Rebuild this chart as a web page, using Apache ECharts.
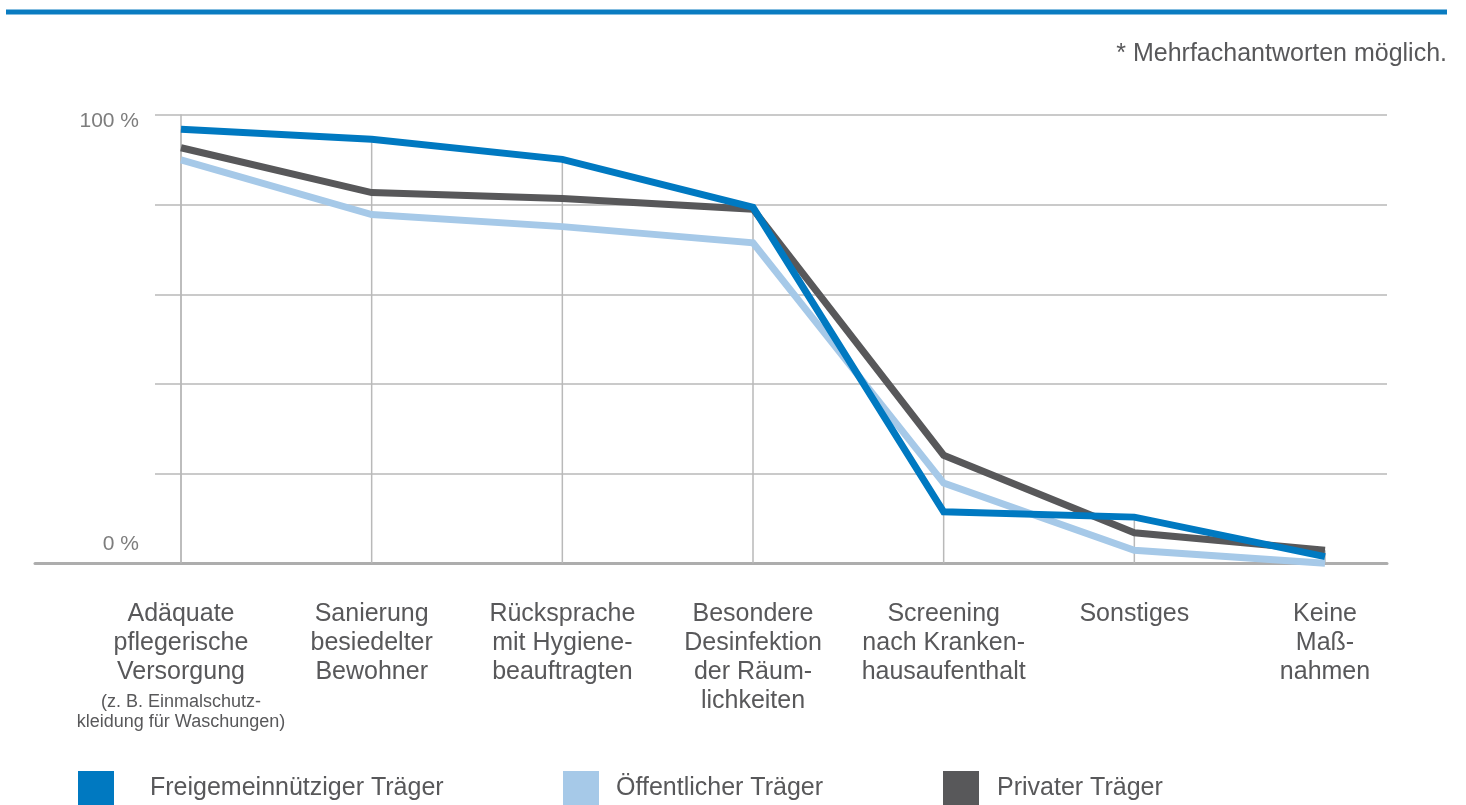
<!DOCTYPE html>
<html lang="de">
<head>
<meta charset="utf-8">
<title>Hygienemaßnahmen nach Trägerart</title>
<script src="https://cdn.jsdelivr.net/npm/echarts@6/dist/echarts.min.js"></script>
<style>
  html, body { margin: 0; padding: 0; background: #ffffff; }
  #chart { width: 1466px; height: 805px; }
</style>
</head>
<body>
<div id="chart"></div>
<script>
// Maßnahmen (x-axis categories) and the small note under the first one
const categories = [
  'Adäquate\npflegerische\nVersorgung',
  'Sanierung\nbesiedelter\nBewohner',
  'Rücksprache\nmit Hygiene-\nbeauftragten',
  'Besondere\nDesinfektion\nder Räum-\nlichkeiten',
  'Screening\nnach Kranken-\nhausaufenthalt',
  'Sonstiges',
  'Keine\nMaß-\nnahmen'
];
const categoryNotes = [
  '(z. B. Einmalschutz-\nkleidung für Waschungen)',
  '', '', '', '', '', ''
];

// Share of facilities per provider type, in percent
const seriesNames = ['Freigemeinnütziger Träger', 'Öffentlicher Träger', 'Privater Träger'];
const freigemeinnuetzig = [96.8, 94.6, 90.1, 79.4, 11.5, 10.3, 1.5];
const oeffentlich      = [90.0, 77.8, 75.1, 71.5, 17.9, 2.9, 0.0];
const privat           = [92.7, 82.7, 81.4, 79.0, 24.1, 6.8, 2.9];

// y-axis ticks
const yTicks = [0, 20, 40, 60, 80, 100];
const yLabelTexts = { 0: '0 %', 100: '100 %' };

const FONT = '"Liberation Sans", Arial, Helvetica, sans-serif';
const C_BLUE = '#0079c1';
const C_LIGHT = '#a6c9e8';
const C_GREY = '#58585a';
const C_GRID = '#b9b9b9';
const C_TEXT = '#58585a';

// highest value per category: the vertical guide drops from there to the baseline
const guideHeights = categories.map((_, i) =>
  Math.max(freigemeinnuetzig[i], oeffentlich[i], privat[i]));

const chart = echarts.init(document.getElementById('chart'), null, { renderer: 'canvas' });

const gridTop = 115;
const gridBottom = 241.7;

function buildCategoryLabel(value, index) {
  const lines = value.split('\n').map(l => '{m|' + l + '}');
  let text = lines.join('\n');
  const note = categoryNotes[index];
  if (note) {
    text += '\n{sp| }\n' + note.split('\n').map(l => '{s|' + l + '}').join('\n');
  }
  return text;
}

function legendFor(name, left, gap) {
  return {
    data: [name], left: left, top: 771, icon: 'rect', padding: 0,
    itemWidth: 36, itemHeight: 35,
    textStyle: { fontFamily: FONT, fontSize: 25, color: C_TEXT, padding: [4, 0, 0, gap] },
    selectedMode: false
  };
}

const option = {
  animation: false,
  backgroundColor: '#ffffff',
  textStyle: { fontFamily: FONT },
  title: {
    text: '* Mehrfachantworten möglich.',
    right: 19,
    top: 42,
    padding: 0,
    textStyle: { fontFamily: FONT, fontSize: 25, fontWeight: 'normal', color: C_TEXT }
  },
  graphic: [
    {
      type: 'rect',
      shape: { x: 6, y: 9.5, width: 1441, height: 5 },
      style: { fill: '#0a7cc1' },
      silent: true
    }
  ],
  legend: [
    legendFor(seriesNames[0], 78, 31),
    legendFor(seriesNames[1], 563, 12),
    legendFor(seriesNames[2], 943, 13)
  ],
  grid: [
    // 0: data lines and category labels
    { left: 181, right: 141, top: gridTop, bottom: gridBottom, containLabel: false },
    // 1: horizontal grid lines and y labels
    { left: 155, right: 79, top: gridTop, bottom: gridBottom, containLabel: false },
    // 2: baseline running out to the left
    { left: 35, right: 79, top: gridTop, bottom: gridBottom, containLabel: false }
  ],
  xAxis: [
    {
      gridIndex: 0,
      type: 'category',
      data: categories,
      boundaryGap: false,
      axisLine: { show: false },
      axisTick: { show: false },
      splitLine: { show: false },
      axisLabel: {
        interval: 0,
        margin: 36,
        hideOverlap: false,
        verticalAlign: 'top',
        align: 'center',
        formatter: buildCategoryLabel,
        rich: {
          m: { fontFamily: FONT, fontSize: 25, lineHeight: 29, color: C_TEXT, align: 'center' },
          sp: { fontSize: 6, lineHeight: 6, align: 'center' },
          s: { fontFamily: FONT, fontSize: 18, lineHeight: 19.5, color: C_TEXT, align: 'center' }
        }
      }
    },
    { gridIndex: 1, type: 'value', min: 0, max: 1, show: false },
    {
      gridIndex: 2, type: 'value', min: 0, max: 1,
      axisLine: { show: true, lineStyle: { color: '#adadad', width: 3 } },
      axisTick: { show: false },
      axisLabel: { show: false },
      splitLine: { show: false }
    }
  ],
  yAxis: [
    {
      gridIndex: 0,
      type: 'value',
      min: yTicks[0], max: yTicks[yTicks.length - 1], interval: 20,
      axisLine: { show: true, lineStyle: { color: C_GRID, width: 1.5 } },
      axisTick: { show: false },
      axisLabel: { show: false },
      splitLine: { show: false }
    },
    {
      gridIndex: 1,
      type: 'value',
      min: yTicks[0], max: yTicks[yTicks.length - 1], interval: 20,
      axisLine: { show: false },
      axisTick: { show: false },
      splitLine: { show: true, lineStyle: { color: C_GRID, width: 1.5 } },
      axisLabel: {
        margin: 16,
        formatter: function (v) {
          if (v === 100) return '{top|' + yLabelTexts[100] + '}';
          if (v === 0) return '{bot|' + yLabelTexts[0] + '}';
          return '';
        },
        rich: {
          top: { fontFamily: FONT, fontSize: 21, color: '#7d7d7d', padding: [12, 0, 0, 0] },
          bot: { fontFamily: FONT, fontSize: 21, color: '#7d7d7d', padding: [0, 0, 38, 0] }
        }
      }
    },
    { gridIndex: 2, type: 'value', min: 0, max: 100, show: false }
  ],
  series: [
    {
      name: 'Hilfslinien',
      type: 'bar',
      xAxisIndex: 0, yAxisIndex: 0,
      data: guideHeights,
      barWidth: 1.5,
      itemStyle: { color: C_GRID },
      silent: true,
      z: 1
    },
    {
      name: seriesNames[1],
      type: 'line',
      xAxisIndex: 0, yAxisIndex: 0,
      data: oeffentlich,
      color: C_LIGHT,
      showSymbol: false,
      symbol: 'none',
      lineStyle: { width: 7, color: C_LIGHT, join: 'miter' },
      itemStyle: { color: C_LIGHT },
      clip: false,
      z: 3
    },
    {
      name: seriesNames[2],
      type: 'line',
      xAxisIndex: 0, yAxisIndex: 0,
      data: privat,
      color: C_GREY,
      showSymbol: false,
      symbol: 'none',
      lineStyle: { width: 7, color: C_GREY, join: 'miter' },
      itemStyle: { color: C_GREY },
      clip: false,
      z: 4
    },
    {
      name: seriesNames[0],
      type: 'line',
      xAxisIndex: 0, yAxisIndex: 0,
      data: freigemeinnuetzig,
      color: C_BLUE,
      showSymbol: false,
      symbol: 'none',
      lineStyle: { width: 7, color: C_BLUE, join: 'miter' },
      itemStyle: { color: C_BLUE },
      clip: false,
      z: 5
    }
  ]
};

chart.setOption(option);
</script>
</body>
</html>
